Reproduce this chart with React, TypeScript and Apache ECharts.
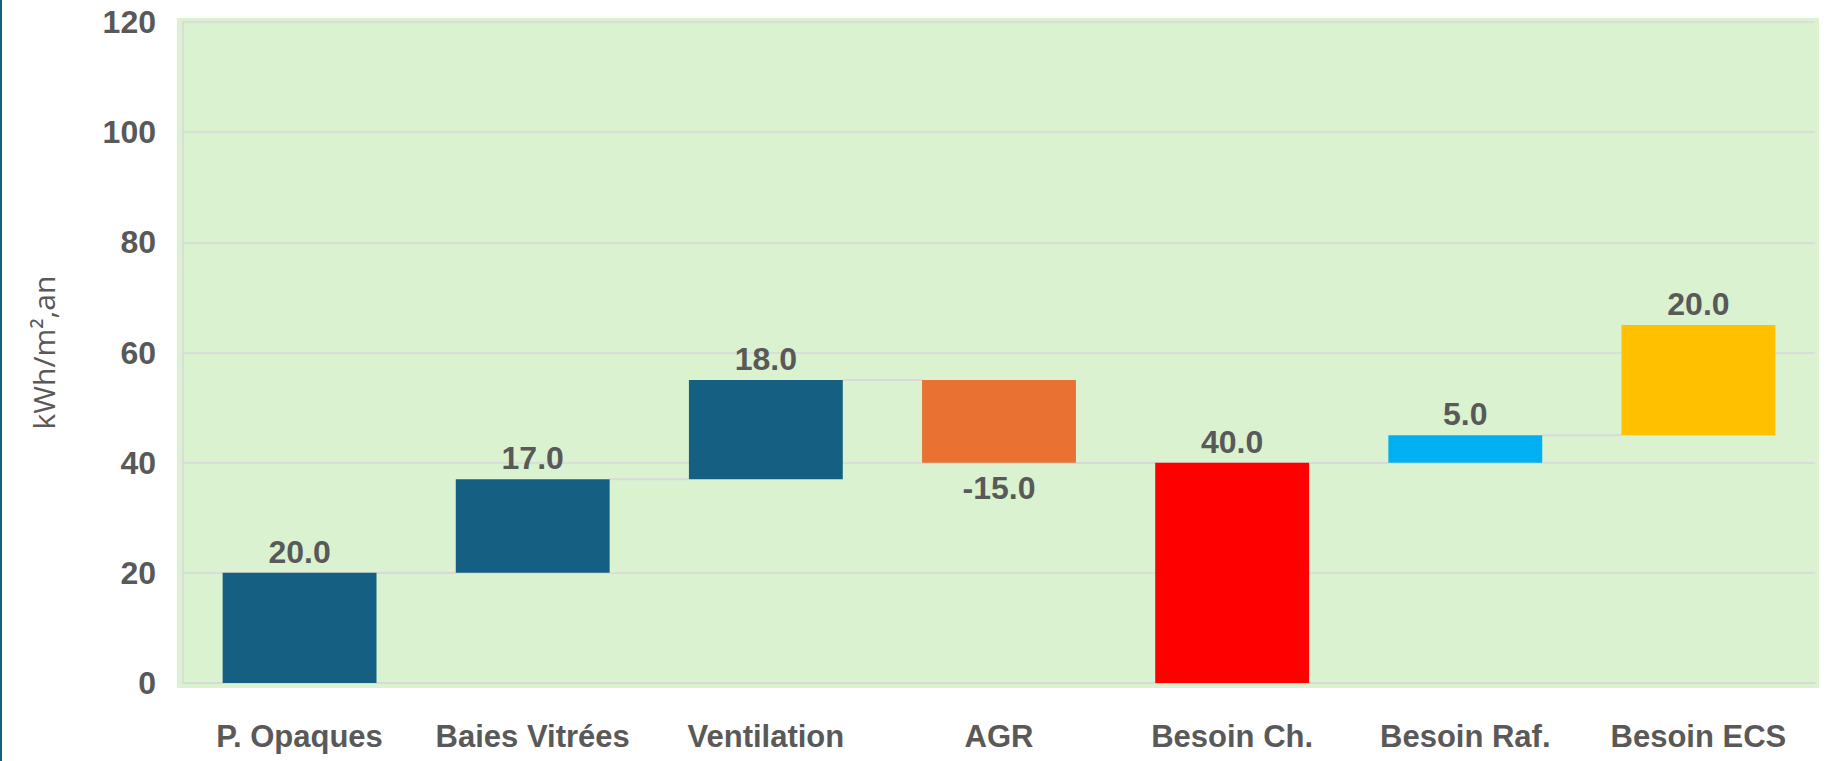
import React, { useEffect, useRef } from "react";
import * as echarts from "echarts";

const categories = ["P. Opaques", "Baies Vitrées", "Ventilation", "AGR", "Besoin Ch.", "Besoin Raf.", "Besoin ECS"];
const deltas = [20, 17, 18, -15, 40, 5, 20];
const isTotal = [false, false, false, false, true, false, false];
const barColors = ["#156082", "#156082", "#156082", "#E97132", "#FF0000", "#00B0F0", "#FFC000"];
const yTicks = { min: 0, max: 120, interval: 20 };
const yAxisName = "kWh/m²,an";

const FONT = "'Liberation Sans', Arial, sans-serif";
const GRAY = "#595959";

export default function App() {
  const ref = useRef<HTMLDivElement>(null);

  useEffect(() => {
    if (!ref.current) return;
    const chart = echarts.init(ref.current, null, { renderer: "svg" });

    // waterfall geometry from deltas
    let running = 0;
    const bases: number[] = [];
    const heights: number[] = [];
    const ends: number[] = [];
    deltas.forEach((d, i) => {
      let start: number, end: number;
      if (isTotal[i]) {
        start = 0;
        end = d;
        running = d;
      } else {
        start = running;
        end = running + d;
        running = end;
      }
      bases.push(Math.min(start, end));
      heights.push(Math.abs(d));
      ends.push(end);
    });

    const connectors = ends.slice(0, -1).map((e, i) => [i, e]);
    const BAR_FRAC = 0.66;

    chart.setOption({
      animation: false,
      backgroundColor: "#ffffff",
      textStyle: { fontFamily: FONT },
      graphic: [
        { type: "rect", z: -10, silent: true, shape: { x: 177, y: 18, width: 1642, height: 670 }, style: { fill: "#DAF2D0" } },
        { type: "rect", z: 10, silent: true, shape: { x: 0, y: 0, width: 2, height: 761 }, style: { fill: "#156082" } },
      ],
      grid: { left: 183, right: 25, top: 22, bottom: 78, containLabel: false },
      xAxis: {
        type: "category",
        data: categories,
        axisLine: { show: true, lineStyle: { color: "#d9d9d9", width: 1.5 } },
        axisTick: { show: false },
        axisLabel: { color: GRAY, fontWeight: "bold", fontSize: 31, margin: 38, interval: 0, fontFamily: FONT },
        splitLine: { show: false },
      },
      yAxis: {
        type: "value",
        min: yTicks.min,
        max: yTicks.max,
        interval: yTicks.interval,
        name: yAxisName,
        nameLocation: "middle",
        nameGap: 125,
        nameTextStyle: { color: GRAY, fontSize: 30, fontFamily: "'Open Sans', 'Liberation Sans', sans-serif" },
        axisLine: { show: true, lineStyle: { color: "#d9d9d9", width: 1.5 } },
        axisTick: { show: false },
        axisLabel: { color: GRAY, fontWeight: "bold", fontSize: 32, margin: 27, fontFamily: FONT },
        splitLine: { show: true, lineStyle: { color: "#d9d9d9", width: 1.5 } },
      },
      series: [
        {
          type: "bar",
          stack: "w",
          barWidth: BAR_FRAC * 100 + "%",
          silent: true,
          itemStyle: { color: "transparent" },
          data: bases,
        },
        {
          type: "bar",
          stack: "w",
          barWidth: BAR_FRAC * 100 + "%",
          data: heights.map((h, i) => ({
            value: h,
            itemStyle: { color: barColors[i] },
            label: {
              show: true,
              position: deltas[i] < 0 ? "bottom" : "top",
              distance: deltas[i] < 0 ? 9 : 5,
              formatter: () => deltas[i].toFixed(1),
              color: GRAY,
              fontWeight: "bold",
              fontSize: 32,
              fontFamily: FONT,
            },
          })),
        },
        {
          type: "custom",
          silent: true,
          z: 1,
          data: connectors,
          renderItem: (params: any, api: any) => {
            const idx = api.value(0);
            const y = api.value(1);
            const p1 = api.coord([idx, y]);
            const p2 = api.coord([idx + 1, y]);
            const bw = api.size([1, 0])[0] * BAR_FRAC;
            return {
              type: "line",
              shape: { x1: p1[0] + bw / 2, y1: p1[1], x2: p2[0] - bw / 2, y2: p2[1] },
              style: { stroke: "#d9d9d9", lineWidth: 2 },
            };
          },
        },
      ],
    });

    return () => chart.dispose();
  }, []);

  return <div ref={ref} style={{ position: "absolute", left: 0, top: 0, width: 1840, height: 761 }} />;
}
